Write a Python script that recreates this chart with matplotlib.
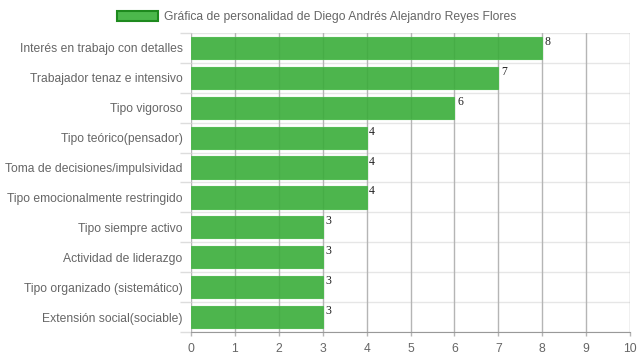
import matplotlib.pyplot as plt
from matplotlib.patches import Patch

categories = [
    'Interés en trabajo con detalles',
    'Trabajador tenaz e intensivo',
    'Tipo vigoroso',
    'Tipo teórico(pensador)',
    'Toma de decisiones/impulsividad',
    'Tipo emocionalmente restringido',
    'Tipo siempre activo',
    'Actividad de liderazgo',
    'Tipo organizado (sistemático)',
    'Extensión social(sociable)',
]
values = [8, 7, 6, 4, 4, 4, 3, 3, 3, 3]
x_ticks = list(range(0, 11))
legend_label = 'Gráfica de personalidad de Diego Andrés Alejandro Reyes Flores'

plt.rcParams['font.family'] = ['Liberation Sans', 'DejaVu Sans']

fig = plt.figure(figsize=(6.39, 3.6), dpi=100)
ax = fig.add_axes([191 / 639, 28 / 360, 439 / 639, 299 / 360])

n = len(categories)
pos = list(range(n))

# horizontal separators between categories
for k in range(n + 1):
    ax.axhline(k - 0.5, color='#e6e6e6', lw=1, zorder=0)
# vertical grid
for t in x_ticks:
    ax.axvline(t, color='#b5b5b5', lw=1, zorder=0)

ax.barh(pos, values, height=0.74, color='#3aad3a', alpha=0.9,
        edgecolor='#4cb84c', linewidth=0.8, zorder=1)

for p, v in zip(pos, values):
    ax.text(v + 0.06, p - 0.2, str(v), fontsize=8.5, family='Liberation Serif',
            color='#222222', va='center', ha='left')

ax.set_xlim(0, 10)
ax.set_ylim(n - 0.5, -0.5)
ax.set_xticks(x_ticks)
ax.set_yticks(pos)
ax.set_yticklabels(categories)
ax.set_yticks([k - 0.5 for k in range(n + 1)], minor=True)
ax.tick_params(axis='both', labelsize=8.7, colors='#666666')
ax.tick_params(axis='y', which='major', length=0, pad=6)
ax.tick_params(axis='y', which='minor', length=8, color='#dddddd', width=1)
ax.tick_params(axis='x', length=3, color='#b5b5b5', width=1, pad=5)
for s in ax.spines.values():
    s.set_visible(False)
ax.spines['bottom'].set_visible(True)
ax.spines['bottom'].set_color('#999999')

handle = Patch(facecolor='#4cb84c', edgecolor='#1e8a1e', linewidth=1.5)
fig.legend([handle], [legend_label], loc='upper center',
           bbox_to_anchor=(0.495, 1.0), frameon=False, fontsize=8.7,
           labelcolor='#666666', handlelength=3.4, handleheight=0.9,
           handletextpad=0.5)

plt.savefig('out.png', dpi=100)
